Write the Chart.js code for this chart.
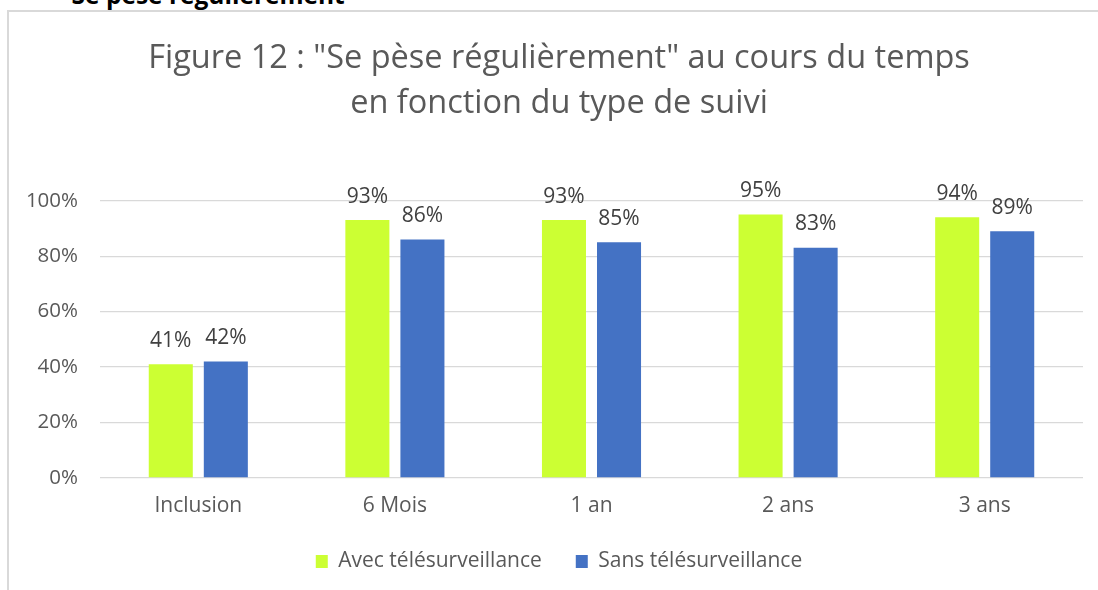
<!DOCTYPE html>
<html lang="fr">
<head>
<meta charset="UTF-8">
<title>Se pèse régulièrement</title>
<style>
  html, body { margin: 0; padding: 0; background: #fff; overflow: hidden; width: 1098px; height: 590px; }
  .entete {
    position: absolute; left: 56px; top: -22px;
    font-family: "Open Sans", sans-serif; font-weight: bold; font-size: 24.5px; color: #000;
    white-space: nowrap;
  }
  .cadre {
    position: absolute; left: 7px; top: 10px; width: 1100px; height: 590px;
    border-top: 2px solid #d9d9d9; border-left: 2px solid #d9d9d9;
  }
  .cadre canvas { display: block; }
</style>
</head>
<body>
<div class="entete">• Se pèse régulièrement</div>
<div class="cadre">
  <canvas id="graphique" width="1100" height="580"></canvas>
</div>

<script src="https://cdn.jsdelivr.net/npm/chart.js"></script>
<script>
  // Données
  const categories = ['Inclusion', '6 Mois', '1 an', '2 ans', '3 ans'];
  const avecTele = [41, 93, 93, 95, 94];
  const sansTele = [42, 86, 85, 83, 89];
  const ticksY = [0, 20, 40, 60, 80, 100];

  const police = '"Open Sans", sans-serif';

  // petites étiquettes au-dessus des barres
  const etiquettes = {
    id: 'etiquettes',
    afterDatasetsDraw(chart) {
      const ctx = chart.ctx;
      ctx.save();
      ctx.font = '21px ' + police;
      ctx.fillStyle = '#404040';
      ctx.textAlign = 'center';
      ctx.textBaseline = 'bottom';
      chart.data.datasets.forEach((ds, i) => {
        chart.getDatasetMeta(i).data.forEach((barre, j) => {
          ctx.fillText(ds.data[j] + '%', barre.x, barre.y - 13);
        });
      });
      ctx.restore();
    }
  };

  new Chart(document.getElementById('graphique'), {
    type: 'bar',
    data: {
      labels: categories,
      datasets: [{
        label: 'Avec télésurveillance',
        data: avecTele,
        backgroundColor: '#ccff33'
      }, {
        label: 'Sans télésurveillance',
        data: sansTele,
        backgroundColor: '#4472c4'
      }]
    },
    options: {
      responsive: false,
      animation: false,
      layout: { padding: { left: 0, right: 0, top: 0, bottom: 10 } },
      datasets: {
        bar: { categoryPercentage: 0.56, barPercentage: 0.8 }
      },
      scales: {
        x: {
          grid: { display: false, drawTicks: false },
          border: { display: false },
          ticks: { color: '#595959', font: { family: police, size: 21 }, padding: 15 },
          afterFit: axe => { axe.height = 39; }
        },
        y: {
          min: 0,
          max: 100,
          afterBuildTicks: axe => { axe.ticks = ticksY.map(v => ({ value: v })); },
          grid: { color: '#d9d9d9', lineWidth: 1.3, drawTicks: false },
          border: { display: false },
          ticks: {
            color: '#595959', font: { family: police, size: 20.5 }, padding: 22,
            callback: v => v + '%'
          },
          afterFit: axe => { axe.width = 91; }
        },
        // marge droite vide
        marge: {
          position: 'right',
          display: true,
          grid: { display: false, drawTicks: false },
          border: { display: false },
          ticks: { display: false },
          afterFit: axe => { axe.width = 26; }
        }
      },
      plugins: {
        title: {
          display: true,
          text: ['Figure 12 : "Se pèse régulièrement" au cours du temps', 'en fonction du type de suivi'],
          color: '#595959',
          font: { family: police, size: 32.5, weight: 'normal', lineHeight: 1.38 },
          padding: { top: 24, bottom: 75 }
        },
        legend: {
          position: 'bottom',
          labels: {
            color: '#595959',
            font: { family: police, size: 21 },
            boxWidth: 12,
            boxHeight: 13,
            padding: 34
          }
        },
        tooltip: { enabled: false }
      }
    },
    plugins: [etiquettes]
  });
</script>
</body>
</html>
